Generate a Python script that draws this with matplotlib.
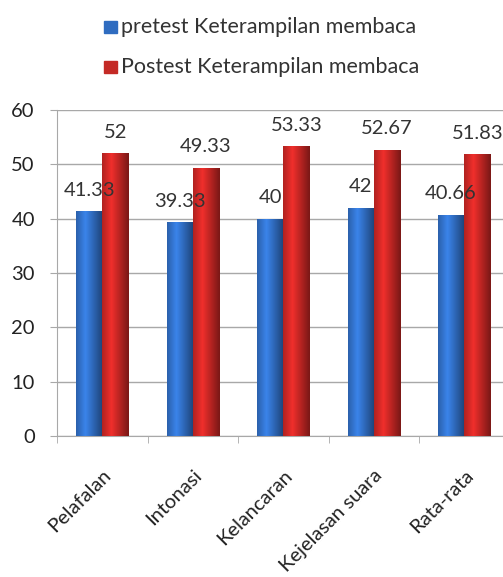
import matplotlib.pyplot as plt
import numpy as np
from matplotlib.patches import Rectangle

plt.rcParams['font.family'] = ['Lato', 'DejaVu Sans']

categories = ['Pelafalan', 'Intonasi', 'Kelancaran', 'Kejelasan suara', 'Rata-rata']
pretest = [41.33, 39.33, 40, 42, 40.66]
postest = [52, 49.33, 53.33, 52.67, 51.83]
pre_labels = ['41.33', '39.33', '40', '42', '40.66']
post_labels = ['52', '49.33', '53.33', '52.67', '51.83']

W, H = 503, 577
fig = plt.figure(figsize=(W / 100, H / 100), dpi=100)
# axes run a bit past the right edge, as in the cropped original
ax = fig.add_axes([57 / W, 1 - 436 / H, 452.5 / W, 326 / H])

x = np.arange(len(categories))
bw = 0.29

def shade(bars, base):
    # cylinder-like horizontal gradient inside each bar
    base = np.array(base)
    g = np.linspace(0, 1, 64)
    light = 1 - np.abs(g - 0.35) * 1.6
    light = np.clip(light, 0, 1)
    for b in bars:
        col = base[None, :] * (0.6 + 0.55 * light[:, None])
        col = np.clip(col, 0, 1)
        img = col[None, :, :]
        x0, y0 = b.get_x(), b.get_y()
        w, h = b.get_width(), b.get_height()
        im = ax.imshow(img, extent=[x0, x0 + w, y0, y0 + h], aspect='auto', zorder=3)
        im.set_clip_path(b)

b1 = ax.bar(x - bw / 2, pretest, bw, color='#2f6cc0', zorder=3)
b2 = ax.bar(x + bw / 2, postest, bw, color='#c42a26', zorder=3)
shade(b1, (0.20, 0.45, 0.80))
shade(b2, (0.82, 0.16, 0.15))

for xi, v, t in zip(x, pretest, pre_labels):
    ax.text(xi - bw / 2, v + 3.9, t, ha='center', va='center', fontsize=14.5, color='#333333', zorder=5)
for xi, v, t in zip(x, postest, post_labels):
    ax.text(xi + bw / 2, v + 3.9, t, ha='center', va='center', fontsize=14.5, color='#333333', zorder=5)

ax.set_ylim(0, 60)
ax.set_xlim(-0.5, len(categories) - 0.5)
ax.set_yticks(range(0, 61, 10))
ax.yaxis.grid(True, color='#a8a8a8', linewidth=1)
ax.set_axisbelow(True)
ax.tick_params(axis='y', length=5, color='#a8a8a8', labelsize=14.5, labelcolor='#222222', pad=11)
ax.set_xticks(x)
ax.set_xticklabels(categories, rotation=45, ha='right', rotation_mode='anchor', fontsize=14.5, color='#222222')
ax.tick_params(axis='x', which='major', length=0, pad=22)
ax.set_xticks(np.arange(-0.5, len(categories), 1), minor=True)
ax.tick_params(axis='x', which='minor', length=5, color='#a8a8a8')
for s in ['top', 'right']:
    ax.spines[s].set_visible(False)
ax.spines['left'].set_color('#a8a8a8')
ax.spines['bottom'].set_color('#a8a8a8')

# legend, two centered rows above the plot
legend_rows = [('pretest Keterampilan membaca', '#2f6cc0', 27), ('Postest Keterampilan membaca', '#c42a26', 67)]
for label, col, yp in legend_rows:
    fig.patches.append(Rectangle((104 / W, 1 - (yp + 6) / H), 13 / W, 12 / H,
                                 transform=fig.transFigure, color=col, figure=fig))
    fig.text(121 / W, 1 - yp / H, label, ha='left', va='center', fontsize=15.5, color='#333333')

fig.savefig('out.png', dpi=100)
